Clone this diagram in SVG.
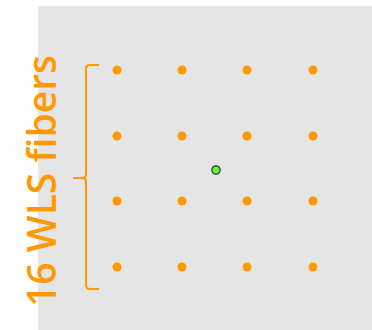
<svg xmlns="http://www.w3.org/2000/svg" width="372" height="330" viewBox="0 0 372 330">
<style>
.fib{fill:#ff9900}
.lbl{fill:#ff9900;font-family:"Open Sans","Noto Sans",sans-serif;font-size:39px;font-weight:600}
</style>
<rect x="38" y="6" width="334" height="324" fill="#e5e5e5"/>
<g id="fibers">
<circle class="fib" cx="117" cy="70" r="4.5"/><circle class="fib" cx="182" cy="70" r="4.5"/><circle class="fib" cx="247" cy="70" r="4.5"/><circle class="fib" cx="313" cy="70" r="4.5"/>
<circle class="fib" cx="117" cy="136" r="4.5"/><circle class="fib" cx="182" cy="136" r="4.5"/><circle class="fib" cx="247" cy="136" r="4.5"/><circle class="fib" cx="313" cy="136" r="4.5"/>
<circle class="fib" cx="117" cy="201" r="4.5"/><circle class="fib" cx="182" cy="201" r="4.5"/><circle class="fib" cx="247" cy="201" r="4.5"/><circle class="fib" cx="313" cy="201" r="4.5"/>
<circle class="fib" cx="117" cy="267" r="4.5"/><circle class="fib" cx="182" cy="267" r="4.5"/><circle class="fib" cx="247" cy="267" r="4.5"/><circle class="fib" cx="313" cy="267" r="4.5"/>
</g>
<g id="center"><circle cx="216" cy="170" r="4.2" fill="#66ee33" stroke="#333" stroke-width="1.2"/></g>
<g id="brace"><path d="M99 65 L90 65 Q86 65 86 69 L86 174 Q86 178 82 178 L73 178 M82 178 Q86 178 86 182 L86 285 Q86 289 90 289 L99 289" fill="none" stroke="#ff9900" stroke-width="2"/></g>
<g id="label"><text class="lbl" transform="translate(56,181) rotate(-90)" text-anchor="middle">16 WLS fibers</text></g>
</svg>
